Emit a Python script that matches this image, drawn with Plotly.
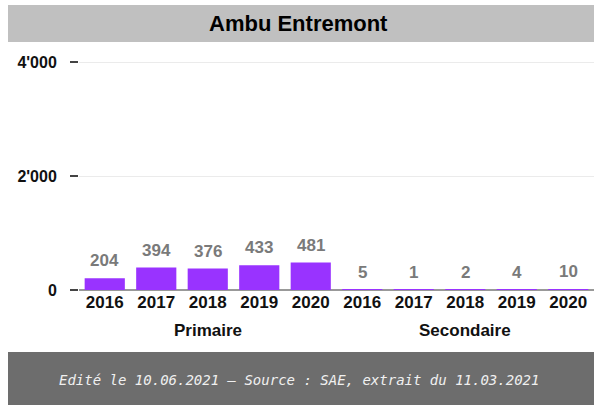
import plotly.graph_objects as go

years = ["2016", "2017", "2018", "2019", "2020", "2016", "2017", "2018", "2019", "2020"]
groups = ["Primaire", "Secondaire"]
group_sizes = [5, 5]
values = [204, 394, 376, 433, 481, 5, 1, 2, 4, 10]
y_ticks = [0, 2000, 4000]
y_ticklabels = ["0", "2'000", "4'000"]
title = "Ambu Entremont"
footer = "Edité le 10.06.2021 – Source : SAE, extrait du 11.03.2021"

W, H = 594, 405
L, T, B = 79, 50, 115
PW, PH = W - L, H - T - B
x_idx = list(range(len(values)))

fig = go.Figure()
fig.add_trace(go.Bar(
    x=x_idx, y=values, marker=dict(color="#9933ff", line=dict(width=0)),
    width=0.78, hoverinfo="skip",
))

# value labels
for xi, v in zip(x_idx, values):
    fig.add_annotation(x=xi, y=v, text=f"<b>{v}</b>", showarrow=False,
                       yanchor="bottom", yshift=6,
                       font=dict(family="Liberation Sans", size=17, color="#7a7a7a"))

# group labels
start = 0
for g, n in zip(groups, group_sizes):
    center = start + (n - 1) / 2
    fig.add_annotation(x=center, y=0, xref="x", yref="y", text=f"<b>{g}</b>",
                       showarrow=False, yanchor="top", yshift=-29,
                       font=dict(family="Liberation Sans", size=17, color="#111111"))
    start += n

def px_x(p):
    return (p - L) / PW

def px_y(p):
    return (H - B - p) / PH

# title bar
fig.add_shape(type="rect", xref="paper", yref="paper",
              x0=px_x(8), x1=px_x(594), y0=px_y(42), y1=px_y(5),
              fillcolor="#c0c0c0", line=dict(width=0), layer="below")
fig.add_annotation(xref="paper", yref="paper", x=px_x(298), y=px_y(24),
                   text=f"<b>{title}</b>", showarrow=False, xanchor="center", yanchor="middle",
                   font=dict(family="Liberation Sans", size=22, color="#000000"))

# footer bar
fig.add_shape(type="rect", xref="paper", yref="paper",
              x0=px_x(8), x1=px_x(594), y0=px_y(406), y1=px_y(352),
              fillcolor="#6d6d6d", line=dict(width=0), layer="below")
fig.add_annotation(xref="paper", yref="paper", x=px_x(299), y=px_y(380),
                   text=f"<i>{footer}</i>", showarrow=False, xanchor="center", yanchor="middle",
                   font=dict(family="DejaVu Sans Mono", size=14, color="#f0f0f0"))

fig.update_layout(
    width=W, height=H,
    margin=dict(l=L, r=0, t=T, b=B),
    paper_bgcolor="white", plot_bgcolor="white",
    showlegend=False,
    bargap=0.22,
    xaxis=dict(
        tickmode="array", tickvals=x_idx, ticktext=[f"<b>{y}</b>" for y in years],
        range=[-0.5, len(values) - 0.5], showgrid=False, zeroline=False,
        ticks="", tickfont=dict(family="Liberation Sans", size=17, color="#111111"),
        showline=False, fixedrange=True,
    ),
    yaxis=dict(
        tickmode="array", tickvals=y_ticks, ticktext=[f"<b>{t}</b>" for t in y_ticklabels],
        range=[0, 4000 * PH / 228], showgrid=True, gridcolor="#ebebeb", gridwidth=1,
        zeroline=True, zerolinecolor="#999999", zerolinewidth=1.5,
        ticks="outside", ticklen=8, tickcolor="#444444", tickwidth=1.5,
        ticklabelstandoff=10,
        tickfont=dict(family="Liberation Sans", size=16, color="#111111"),
        showline=False, fixedrange=True,
    ),
)

fig.write_html("out.html", config={"displayModeBar": False},
               post_script="document.body.style.margin='0';")
